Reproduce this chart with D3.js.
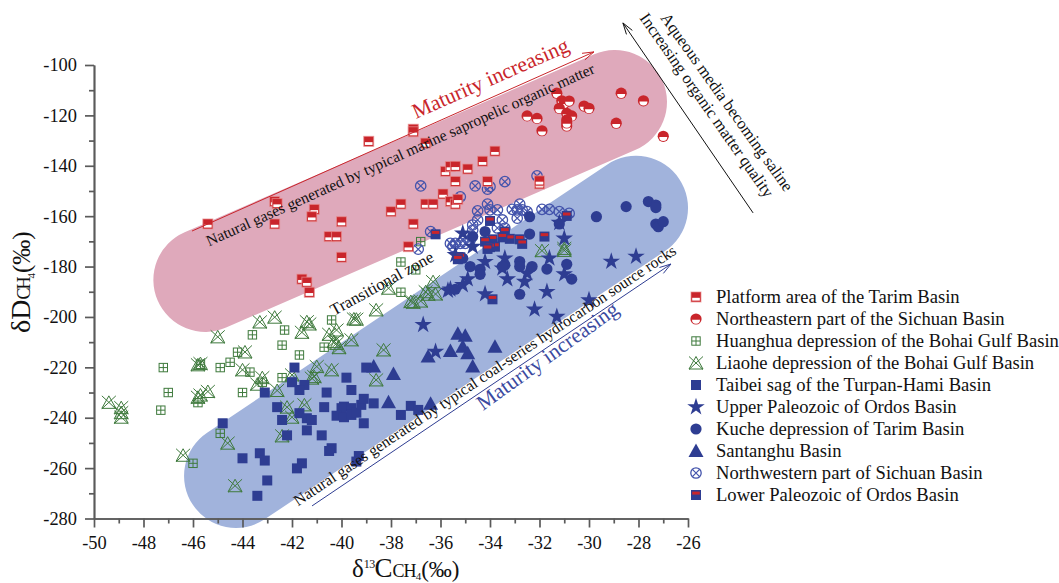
<html>
<script src='https://d3js.org/d3.v7.min.js'></script>
<style>
html, body {margin: 0; background: #fff;}
text {font-family: "Liberation Serif", serif; fill: #111;}
.axis path, .axis line {stroke: #5a5a5a; stroke-width: 1.7; fill: none;}
.axis text {font-family: "Liberation Serif", serif; font-size: 18.4px; fill: #111;}
</style>
<body>
<svg width=1059 height=583></svg>
<script>
// values, [d13C, dD]
var platform = [[-45.4,-163.1],[-42.7,-154.2],[-42.7,-163.1],[-42.6,-155],[-41.1,-157.3],[-41.2,-160.2],[-40,-162.2],[-40.5,-168.1],[-40.2,-168.1],[-40,-176.3],[-38.9,-130.3],[-37.1,-125.5],[-37.1,-126.5],[-36.6,-131],[-38,-158.2],[-37.6,-155.2],[-37.1,-163.1],[-36.6,-155.2],[-36.3,-155.2],[-37.3,-172.1],[-35.9,-151.2],[-35.6,-154.2],[-35.4,-155.2],[-35.3,-153.3],[-35.8,-142.2],[-35.6,-140.3],[-35.4,-140.2],[-35.4,-146.2],[-34.9,-141.3],[-34.3,-138.2],[-33.8,-134.2],[-34.1,-146.2],[-32,-147.2],[-32,-146],[-41.6,-185],[-41.4,-186.2],[-41.3,-190.2]];
var neSichuan = [[-32.5,-120.2],[-32.1,-121.2],[-31.9,-126.1],[-31.3,-111.2],[-31.1,-114.2],[-31,-115.2],[-30.8,-114.3],[-31.2,-117.2],[-30.9,-119.2],[-30.7,-120.2],[-30.9,-121.8],[-30.9,-124.2],[-30.9,-123],[-30.2,-116.3],[-30,-117.2],[-28.7,-111.2],[-27.8,-114.2],[-28.9,-123.1],[-27,-128.3]];
var huanghua = [[-47.2,-220.1],[-47,-230],[-47.3,-237],[-45.7,-218.8],[-45.8,-234],[-44.9,-220.1],[-44.5,-218],[-44.2,-214],[-43.6,-207.1],[-42.3,-205.2],[-42.4,-211.2],[-41.7,-215.1],[-43.7,-221.9],[-43.2,-225.9],[-42.4,-224.1],[-44,-230],[-44.9,-246.2],[-46,-258.1],[-40.4,-201.2],[-40.7,-212],[-36.8,-170.1],[-37.6,-178.2],[-37,-181.3],[-37.6,-190.2]];
var liaohe = [[-49.4,-233.9],[-48.9,-236],[-48.9,-238],[-48.9,-239.8],[-46.4,-254.9],[-44.6,-250.1],[-44.3,-267],[-45,-207.9],[-45.8,-219],[-45.7,-218.5],[-45.4,-229.6],[-45.7,-231],[-45.8,-231.9],[-43.3,-202],[-42.7,-200.1],[-41.4,-201.9],[-41.3,-202.8],[-41.6,-206.1],[-43.9,-213.9],[-44,-221],[-43.2,-224.1],[-43.4,-226.7],[-42.6,-229.2],[-42,-223],[-41,-219.7],[-41.2,-224.3],[-41.1,-223.7],[-40.4,-221],[-40.5,-206.9],[-40.2,-205.2],[-40.2,-210.5],[-40.1,-212.2],[-39.6,-209.1],[-39.5,-200.8],[-39.4,-200.9],[-38.6,-197.2],[-38.6,-225],[-38.3,-213.1],[-42.2,-235.8],[-42,-239.8],[-41.5,-234.9],[-42.4,-247.2],[-38.1,-188.6],[-40.3,-209.8],[-37.2,-193.9],[-37.1,-194.2],[-36.8,-193.7],[-36.6,-190],[-36.5,-191],[-36.3,-186],[-36.2,-190.9],[-31.9,-173.7],[-31,-172.8],[-31,-173.6]];
var taibei = [[-41.9,-220.1],[-42,-225.9],[-41.5,-227],[-41.7,-229],[-43.1,-230],[-40.6,-230],[-39.8,-224.1],[-39.6,-229],[-39,-220.1],[-42.6,-235.8],[-41.7,-238.2],[-41.4,-240.2],[-41.2,-240.9],[-40.7,-235.8],[-42.4,-240.9],[-42.2,-247],[-41.4,-245],[-40.8,-247],[-40.4,-252.1],[-40.5,-253.2],[-44.8,-242.2],[-44,-256.1],[-43.3,-254.1],[-43.1,-257],[-43,-264.9],[-43.4,-271],[-41.6,-258.1],[-41.8,-260.1],[-39.3,-255.2],[-39.4,-257.4],[-39.9,-235.6],[-40,-236.2],[-39.6,-236.2],[-40.2,-239.2],[-39.9,-239.8],[-39.6,-238.9],[-39.4,-238],[-39.2,-234.9],[-39.1,-232.5],[-39.1,-242.2],[-38.7,-234.3],[-37.6,-238.9],[-37.2,-235.3],[-36.9,-236.9]];
var upperOrdos = [[-36.7,-203.1],[-36.2,-213.8],[-35.6,-189],[-35.1,-187.3],[-34.9,-185],[-34.2,-178.1],[-34.2,-190.9],[-33.5,-180.7],[-33.4,-176.7],[-33.3,-185],[-32.6,-186],[-32.5,-182.7],[-32.2,-197],[-31.7,-190],[-31.6,-176.7],[-31.3,-199.9],[-31,-183],[-31,-168.8],[-31.2,-162.6],[-30,-193.3],[-29.1,-178],[-28.1,-176],[-35.1,-166.8],[-34.7,-172.1],[-35.4,-175.4],[-35.7,-189.5]];
var kuche = [[-32.4,-160.2],[-32.4,-167.1],[-31.2,-163.1],[-29.7,-160.2],[-28.5,-156.2],[-27.6,-154.2],[-27.3,-155.6],[-27.3,-156.6],[-27.3,-163.1],[-27.2,-164.2],[-27,-162.2],[-34.2,-166.1],[-34.7,-168.1],[-34.8,-180],[-34.4,-181.1],[-34.4,-183.1],[-33.4,-179.4],[-33.5,-180],[-32.8,-178],[-32.8,-180],[-32.3,-180],[-31.7,-181],[-30.9,-179.1],[-30.7,-185],[-32.8,-191],[-35.4,-189],[-35.1,-176.7]];
var santanghu = [[-35.3,-206.7],[-35,-207.5],[-35.1,-211.8],[-35.6,-213.5],[-34.9,-214.4],[-33.8,-211.8],[-36.5,-215.7],[-34.7,-219.7],[-38.7,-219.7],[-37.9,-222.6],[-38.1,-233.9],[-36.4,-234.5]];
var nwSichuan = [[-36.8,-148],[-34.6,-148],[-34.1,-149.3],[-34,-148.3],[-33.4,-146.3],[-32.1,-144],[-35.2,-152.3],[-34.5,-157.9],[-34.1,-155.2],[-34,-157.5],[-33.7,-157.5],[-33.1,-157.3],[-32.8,-155.2],[-32.7,-157.5],[-32.9,-157.5],[-32.5,-158.2],[-32.9,-160.8],[-31.9,-157.3],[-31.6,-157.3],[-31.2,-158.2],[-30.8,-158.9],[-34.5,-161.5],[-34.7,-163.5],[-34.7,-165.5],[-33.5,-161.5],[-33.4,-164.8],[-33.7,-164.7],[-36.4,-166.1],[-36.9,-173.1],[-35.6,-170.8],[-35.4,-170.8],[-35.2,-170.8],[-35,-170.8],[-34.8,-169.5],[-35.5,-172]];
var lowerOrdos = [[-36.2,-167.2],[-34,-161.9],[-30.9,-159.9],[-33.4,-166.1],[-31.8,-168.1],[-32.8,-169.2],[-32.7,-171],[-33.2,-169],[-33.5,-168.4],[-33.9,-169.2],[-34.2,-170.1],[-33.8,-172.1],[-34,-172.3],[-34.1,-173],[-35.2,-176.3],[-35.3,-177.1],[-33.9,-193]];

var legendNames = ["Platform area of the Tarim Basin","Northeastern part of the Sichuan Basin","Huanghua depression of the Bohai Gulf Basin","Liaohe depression of the Bohai Gulf Basin","Taibei sag of the Turpan-Hami Basin","Upper Paleozoic of Ordos Basin","Kuche depression of Tarim Basin","Santanghu Basin","Northwestern part of Sichuan Basin","Lower Paleozoic of Ordos Basin"];
var legendData = [platform, neSichuan, huanghua, liaohe, taibei, upperOrdos, kuche, santanghu, nwSichuan, lowerOrdos];
var drawOrder = [2, 3, 8, 0, 1, 4, 5, 6, 7, 9];

var xMajor = d3.range(-50, -25, 2);
var xMinor = d3.range(-49, -26, 2);
var yMajor = d3.range(-280, -99, 20);
var yMinor = d3.range(-270, -100, 20);

// bands and arrows, in axis units
var pinkBand = [[-45.5,-185.3],[-28.95,-114.7]];
var blueBand = [[-44.26,-263.1],[-28.1,-156.7]];

var RED = "#c9252b", NAVY = "#2e3d92", GREEN = "#3f7a3d", LINK = "#4454ac";

var x = d3.scaleLinear().domain([-50, -26]).range([94, 688]);
var y = d3.scaleLinear().domain([-280, -100]).range([518.5, 65]);
var svg = d3.select("svg");
var line = d3.line().x(function (d) { return x(d[0]); }).y(function (d) { return y(d[1]); });

// capsules
svg.append("path").attr("d", line(pinkBand)).attr("stroke", "#dfa9bb").attr("stroke-width", 104).attr("stroke-linecap", "round").attr("fill", "none");
svg.append("path").attr("d", line(blueBand)).attr("stroke", "#a1b3dc").attr("stroke-width", 104).attr("stroke-linecap", "round").attr("fill", "none");

// Axes
svg.append("g").attr("class", "axis").attr("transform", "translate(94,0)")
  .call(d3.axisLeft(y).tickValues(yMajor).tickFormat(function (d) { return "-" + Math.abs(d); }).tickSize(9).tickSizeOuter(0).tickPadding(8));
svg.append("g").attr("class", "axis").attr("transform", "translate(94,0)")
  .call(d3.axisLeft(y).tickValues(yMinor).tickFormat("").tickSize(5).tickSizeOuter(0));
svg.append("g").attr("class", "axis").attr("transform", "translate(0,518.5)")
  .call(d3.axisBottom(x).tickValues(xMajor).tickFormat(function (d) { return "-" + Math.abs(d); }).tickSize(9).tickSizeOuter(0).tickPadding(8));
svg.append("g").attr("class", "axis").attr("transform", "translate(0,518.5)")
  .call(d3.axisBottom(x).tickValues(xMinor).tickFormat("").tickSize(5).tickSizeOuter(0));

// Marker drawing
var starPath = d3.symbol().type(d3.symbolStar).size(95)();
var bigTri = "M0,-7.5L7.5,6L-7.5,6Z";
var markers = [
  function (g) { // platform
    g.append("rect").attr("x", -5).attr("y", -5).attr("width", 10).attr("height", 10).attr("fill", RED).attr("stroke", "#e98f90").attr("stroke-opacity", 0.7).attr("stroke-width", 1);
    g.append("rect").attr("x", -3.8).attr("y", 0.8).attr("width", 7.6).attr("height", 2.8).attr("fill", "#fff");
  },
  function (g) { // NE Sichuan
    g.append("circle").attr("r", 5.6).attr("fill", RED);
    g.append("path").attr("d", "M-4,0.8L4,0.8A4,4 0 0 1 -4,0.8Z").attr("fill", "#fff");
  },
  function (g) { // Huanghua
    g.append("rect").attr("x", -4.2).attr("y", -4.2).attr("width", 8.4).attr("height", 8.4).attr("fill", "none").attr("stroke", GREEN).attr("stroke-width", 1);
    g.append("path").attr("d", "M-4.2,0H4.2M0,-4.2V4.2").attr("stroke", GREEN).attr("stroke-width", 1);
  },
  function (g) { // Liaohe
    g.append("path").attr("d", "M-7,6L7,6L0,-6.5Z").attr("fill", "none").attr("stroke", GREEN).attr("stroke-width", 1);
    g.append("path").attr("d", "M-7,-6.5L7,6.5M7,-6.5L-7,6.5").attr("stroke", GREEN).attr("stroke-width", 1);
  },
  function (g) { // Taibei
    g.append("rect").attr("x", -5).attr("y", -5).attr("width", 10).attr("height", 10).attr("fill", NAVY);
  },
  function (g) { // Upper Ordos
    g.append("path").attr("d", starPath).attr("fill", NAVY);
  },
  function (g) { // Kuche
    g.append("circle").attr("r", 5.6).attr("fill", NAVY);
  },
  function (g) { // Santanghu
    g.append("path").attr("d", bigTri).attr("fill", NAVY);
  },
  function (g) { // NW Sichuan
    g.append("circle").attr("r", 5.2).attr("fill", "none").attr("stroke", LINK).attr("stroke-width", 1.3);
    g.append("path").attr("d", "M-3.6,-3.6L3.6,3.6M3.6,-3.6L-3.6,3.6").attr("stroke", LINK).attr("stroke-width", 1.2);
  },
  function (g) { // Lower Ordos
    g.append("rect").attr("x", -5).attr("y", -5).attr("width", 10).attr("height", 10).attr("fill", NAVY);
    g.append("rect").attr("x", -3.8).attr("y", -3.4).attr("width", 7.6).attr("height", 3).attr("fill", RED);
  }
];

// Draw points
drawOrder.forEach(function (k) {
  svg.append("g").selectAll("g").data(legendData[k]).enter().append("g")
    .attr("transform", function (d) { return "translate(" + x(d[0]) + "," + y(d[1]) + ")"; })
    .each(function () { markers[k](d3.select(this)); });
});

// Arrows
var arrows = [
  {from: [-46.04,-165.9], to: [-29.8,-94.8], color: "#c9252b"},
  {from: [-41.19,-275], to: [-26.69,-179], color: "#2e3d92"},
  {from: [-23.37,-158.7], to: [-28.63,-83.3], color: "#111"}
];
arrows.forEach(function (a) {
  var x0 = x(a.from[0]), y0 = y(a.from[1]), x1 = x(a.to[0]), y1 = y(a.to[1]);
  var ang = Math.atan2(y1 - y0, x1 - x0);
  svg.append("line").attr("x1", x0).attr("y1", y0).attr("x2", x1).attr("y2", y1).attr("stroke", a.color).attr("stroke-width", 1);
  var head = d3.path();
  head.moveTo(x1 - 12 * Math.cos(ang - 0.3), y1 - 12 * Math.sin(ang - 0.3));
  head.lineTo(x1, y1);
  head.lineTo(x1 - 12 * Math.cos(ang + 0.3), y1 - 12 * Math.sin(ang + 0.3));
  svg.append("path").attr("d", head.toString()).attr("fill", "none").attr("stroke", a.color).attr("stroke-width", 1);
});

// Rotated notes: text, start x, start y (axis units), angle, size, colour
var notes = [
  ["Maturity increasing", -36.99, -121.4, -23.8, 21.5, "#c9252b"],
  ["Natural gases generated by typical marine sapropelic organic matter", -45.35, -172, -24.2, 15.6, "#111"],
  ["Transitional zone", -40.3, -199.6, -28.8, 16.6, "#111"],
  ["Natural gases generated by typical coal-series hydrocarbon source rocks", -41.76, -275.2, -33.7, 15.8, "#111"],
  ["Maturity increasing", -34.28, -237.3, -35.7, 21.5, "#3b4aa0"],
  ["Aqueous media becoming saline", -27.13, -81.35, 54.4, 16.5, "#111"],
  ["Increasing organic matter quality", -27.98, -81.35, 55, 16.7, "#111"]
];
notes.forEach(function (n) {
  svg.append("text")
    .attr("transform", "translate(" + x(n[1]) + "," + y(n[2]) + ") rotate(" + n[3] + ")")
    .attr("font-size", n[4]).style("fill", n[5]).text(n[0]);
});

// Legend
legendNames.forEach(function (name, i) {
  var row = 297 + i * 22;
  var g = svg.append("g").attr("transform", "translate(696," + row + ")");
  markers[i](g);
  svg.append("text").attr("x", 716).attr("y", row + 5.5).attr("font-size", 18.6).text(name);
});

// Axis titles
var yt = svg.append("text").attr("transform", "translate(29.5,333) rotate(-90)").attr("font-size", 25);
yt.append("tspan").attr("font-size", 28).text("δD");
yt.append("tspan").attr("font-size", 18).attr("letter-spacing", -2).text("CH");
yt.append("tspan").attr("font-size", 11).attr("dy", 5).text("4");
yt.append("tspan").attr("dy", -5).text("(‰)");

var xt = svg.append("text").attr("x", 352).attr("y", 577).attr("font-size", 23);
xt.append("tspan").attr("font-size", 25).text("δ");
xt.append("tspan").attr("font-size", 12).attr("letter-spacing", -0.6).attr("dy", -9).text("13");
xt.append("tspan").attr("font-size", 27).attr("dy", 9).text("C");
xt.append("tspan").attr("font-size", 18).attr("letter-spacing", -1).text("CH");
xt.append("tspan").attr("font-size", 11).attr("dy", 3).text("4");
xt.append("tspan").attr("dy", -3).text("(‰)");
</script>
</body>
</html>
